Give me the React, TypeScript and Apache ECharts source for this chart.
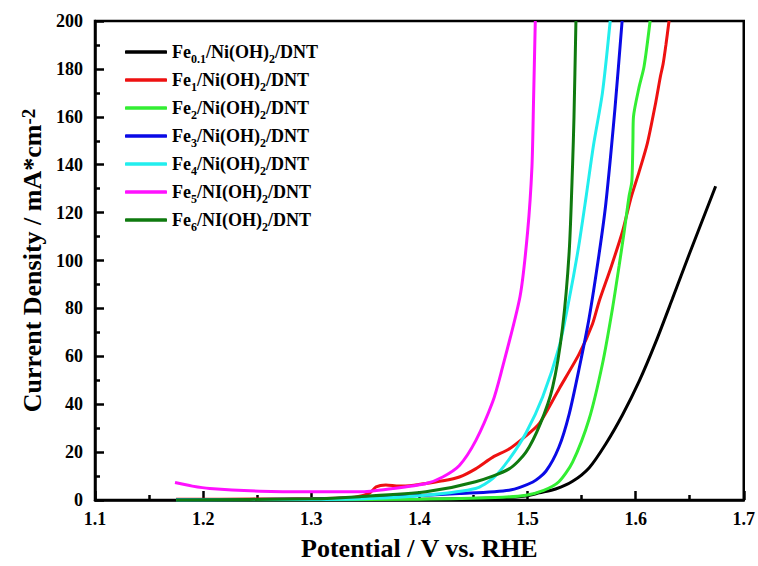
import React, { useEffect, useRef } from "react";
import * as echarts from "echarts";

const FONT = "'Liberation Serif', 'Times New Roman', serif";

const xTicks = [1.1, 1.7];
const yTicks = [0, 200];

const legendSubs = ["0.1", "1", "2", "3", "4", "5", "6"];
const legendMids = ["Ni", "Ni", "Ni", "Ni", "Ni", "NI", "NI"];
const seriesColors = ["#000000", "#ee1111", "#33ee33", "#0a0ae6", "#22eeee", "#ff11ff", "#0f7a0f"];

const fe01 = [[1.175,0.1],[1.25,0.1],[1.3,0.15],[1.35,0.2],[1.4,0.3],[1.45,0.6],[1.48,1.0],[1.5,1.8],[1.511,3.0],[1.526,4.6],[1.5417,7.8],[1.5571,13.5],[1.5725,23.5],[1.5878,35.5],[1.6032,49.5],[1.6187,66],[1.634,84],[1.6494,102.4],[1.674,131]];
const fe1 = [[1.175,0.3],[1.25,0.4],[1.3,0.6],[1.34,1.2],[1.354,2.9],[1.36,5.5],[1.369,6.3],[1.381,5.8],[1.395,6.2],[1.406,6.9],[1.422,8],[1.437,9.6],[1.452,13],[1.468,17.9],[1.483,21.3],[1.4986,26.8],[1.511,32],[1.5293,46.5],[1.5478,61],[1.5601,73.5],[1.5663,83],[1.5771,97],[1.5878,112],[1.5956,126],[1.6032,137],[1.6109,149],[1.6186,166],[1.623,177],[1.6254,182],[1.628,190],[1.6309,200]];
const fe2 = [[1.175,0.05],[1.3,0.1],[1.4,0.3],[1.47,1.0],[1.4986,2],[1.515,4],[1.529,7.6],[1.5417,15.8],[1.557,33.8],[1.5694,57],[1.5786,80],[1.5848,98],[1.5894,112],[1.594,127],[1.5965,133],[1.5975,150],[1.598,160],[1.603,172],[1.6078,181],[1.6134,200]];
const fe3 = [[1.175,0.1],[1.3,0.4],[1.375,1.4],[1.437,2.7],[1.483,4.1],[1.505,7.5],[1.517,12],[1.529,22],[1.5386,36],[1.5478,55],[1.557,76],[1.5663,103],[1.5725,124],[1.5808,163],[1.5875,200]];
const fe4 = [[1.175,0.05],[1.3,0.2],[1.35,0.5],[1.406,2],[1.452,4.8],[1.468,9],[1.483,17],[1.4986,28],[1.514,43],[1.5293,64],[1.5386,84],[1.547,105],[1.554,126],[1.561,148],[1.5693,170],[1.5765,200]];
const fe5 = [[1.174,7.3],[1.19,5.8],[1.206,4.8],[1.2524,3.7],[1.2985,3.4],[1.3447,3.4],[1.3754,4.8],[1.4063,6.9],[1.4216,9.6],[1.437,14.4],[1.4524,25],[1.4678,41],[1.4755,53],[1.4931,85],[1.5001,112],[1.5041,139],[1.5056,167],[1.5072,200]];
const fe6 = [[1.175,0.05],[1.3,0.5],[1.345,1.4],[1.406,3.4],[1.452,7.6],[1.483,13],[1.4986,20],[1.512,32],[1.5232,47],[1.5324,72],[1.5386,104],[1.5417,140],[1.543,160],[1.5448,200]];

const seriesData = [fe01, fe1, fe2, fe3, fe4, fe5, fe6];

export default function App() {
  const ref = useRef<HTMLDivElement>(null);
  useEffect(() => {
    if (!ref.current) return;
    const chart = echarts.init(ref.current, null, { renderer: "svg" });
    const names = legendSubs.map((s, i) => `Fe${s}/${legendMids[i]}(OH)2/DNT`);
    const tStyle = (size: number) => ({ fontSize: size, fontWeight: "bold", fontFamily: FONT, color: "#000" });
    chart.setOption({
      animation: false,
      backgroundColor: "#fff",
      grid: { left: 95, right: 13, top: 21, bottom: 62, show: true, borderColor: "#000", borderWidth: 2.5 },
      legend: {
        orient: "vertical",
        left: 120,
        top: 38,
        itemWidth: 42,
        itemHeight: 3.5,
        itemGap: 6,
        icon: "roundRect",
        data: names,
        formatter: (name: string) => {
          const i = names.indexOf(name);
          return `{m|Fe}{s|${legendSubs[i]}}{m|/${legendMids[i]}(OH)}{s|2}{m|/DNT}`;
        },
        textStyle: {
          rich: {
            m: { ...tStyle(18), lineHeight: 18, verticalAlign: "top" },
            s: { ...tStyle(12), lineHeight: 12, verticalAlign: "top", padding: [10, 0, 0, 0] },
          },
        },
      },
      xAxis: {
        type: "value",
        min: xTicks[0],
        max: xTicks[1],
        interval: 0.1,
        name: "Potential / V vs. RHE",
        nameLocation: "middle",
        nameGap: 35,
        nameTextStyle: tStyle(26),
        axisLine: { lineStyle: { color: "#000", width: 2.5 } },
        axisTick: { inside: true, length: 9, lineStyle: { width: 2.5, color: "#000" } },
        minorTick: { show: true, splitNumber: 2, length: 5, lineStyle: { width: 2.5, color: "#000" } },
        splitLine: { show: false },
        axisLabel: { ...tStyle(18), margin: 10, formatter: (v: number) => v.toFixed(1) },
      },
      yAxis: {
        type: "value",
        min: yTicks[0],
        max: yTicks[1],
        interval: 20,
        name: "{m|Current Density / mA*cm}{s|-2}",
        nameLocation: "middle",
        nameGap: 48,
        nameTextStyle: {
          rich: {
            m: tStyle(26),
            s: { ...tStyle(19), verticalAlign: "top" },
          },
        },
        axisLine: { lineStyle: { color: "#000", width: 2.5 } },
        axisTick: { inside: true, length: 9, lineStyle: { width: 2.5, color: "#000" } },
        minorTick: { show: true, splitNumber: 2, length: 5, lineStyle: { width: 2.5, color: "#000" } },
        splitLine: { show: false },
        axisLabel: { ...tStyle(18), margin: 12 },
      },
      series: seriesData.map((d, i) => ({
        name: names[i],
        type: "line",
        data: d,
        showSymbol: false,
        symbol: "none",
        smooth: 0.25,
        color: seriesColors[i],
        lineStyle: { width: 3, color: seriesColors[i] },
        itemStyle: { color: seriesColors[i] },
      })),
    });
    return () => chart.dispose();
  }, []);
  return <div ref={ref} style={{ position: "fixed", left: 0, top: 0, width: 758, height: 566 }} />;
}
